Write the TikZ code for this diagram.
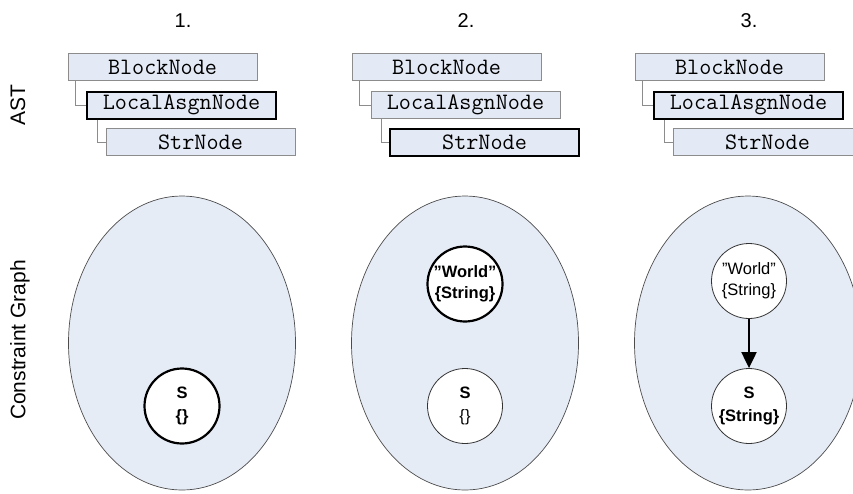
\documentclass[tikz,border=0pt]{standalone}
\usepackage{fontspec}
\setmainfont{Liberation Sans}
\usetikzlibrary{shapes.geometric,arrows.meta}
\definecolor{boxfill}{HTML}{E4EAF5}
\definecolor{ellfill}{HTML}{E6ECF6}
\definecolor{boxline}{HTML}{8C8C8C}
\begin{document}
\begin{tikzpicture}[x=1pt, y=-1pt,
  ast/.style = {draw=boxline, fill=boxfill, line width=0.9pt, minimum width=189pt, minimum height=27pt,
    inner sep=0pt, font=\ttfamily\fontsize{23.5}{24}\selectfont},
  curast/.style = {ast, draw=black, line width=2pt},
  link/.style = {draw=boxline, line width=0.9pt},
  graphell/.style = {draw=black!70, fill=ellfill, line width=0.7pt, ellipse, minimum width=227pt, minimum height=294pt},
  var/.style = {draw=black!80, fill=white, circle, line width=0.8pt, minimum size=75pt, inner sep=0pt,
    align=center, font=\fontsize{16.5}{21}\selectfont},
  curvar/.style = {var, draw=black, line width=2.2pt},
  side/.style = {rotate=90, font=\fontsize{21}{24}\selectfont},
  num/.style = {font=\fontsize{20}{22}\selectfont}]
\useasboundingbox (0,0) rectangle (853,493);

% row labels
\node[side] (lab1) at (18,105) {AST};
\node[side] (lab2) at (20,340) {Constraint Graph};

% column 1
\node[num] (n1) at (183,21) {1.};
\node[ast] (b1) at (162.5,67) {BlockNode};
\node[curast] (l1) at (181.5,105) {LocalAsgnNode};
\node[ast] (s1) at (200.5,142) {StrNode};
\draw[link] ([xshift=8pt]b1.south west) |- (l1.west);
\draw[link] ([xshift=11pt]l1.south west) |- (s1.west);
\node[graphell] (g1) at (182,343) {};
\node[curvar] (v1) at (182,406) {\textbf{S}\\[2pt]\textbf{\{\}}};

% column 2
\node[num] (n2) at (466,21) {2.};
\node[ast] (b2) at (446.5,67) {BlockNode};
\node[ast] (l2) at (465.5,105) {LocalAsgnNode};
\node[curast] (s2) at (484.5,142) {StrNode};
\draw[link] ([xshift=8pt]b2.south west) |- (l2.west);
\draw[link] ([xshift=11pt]l2.south west) |- (s2.west);
\node[graphell] (g2) at (465,343) {};
\node[curvar] (w2) at (465,284) {\textbf{”World”}\\\textbf{\{String\}}};
\node[var] (v2) at (465,406) {\textbf{S}\\[2pt]\{\}};

% column 3
\node[num] (n3) at (749,21) {3.};
\node[ast] (b3) at (729.5,67) {BlockNode};
\node[curast] (l3) at (748.5,105) {LocalAsgnNode};
\node[ast] (s3) at (767.5,142) {StrNode};
\draw[link] ([xshift=8pt]b3.south west) |- (l3.west);
\draw[link] ([xshift=11pt]l3.south west) |- (s3.west);
\node[graphell] (g3) at (748,343) {};
\node[var] (w3) at (749,281) {”World”\\\{String\}};
\node[var] (v3) at (749,406) {\textbf{S}\\[2pt]\textbf{\{String\}}};
\draw[line width=2pt, -{Triangle[length=16pt, width=15pt]}] (w3) -- (v3);
\end{tikzpicture}
\end{document}
